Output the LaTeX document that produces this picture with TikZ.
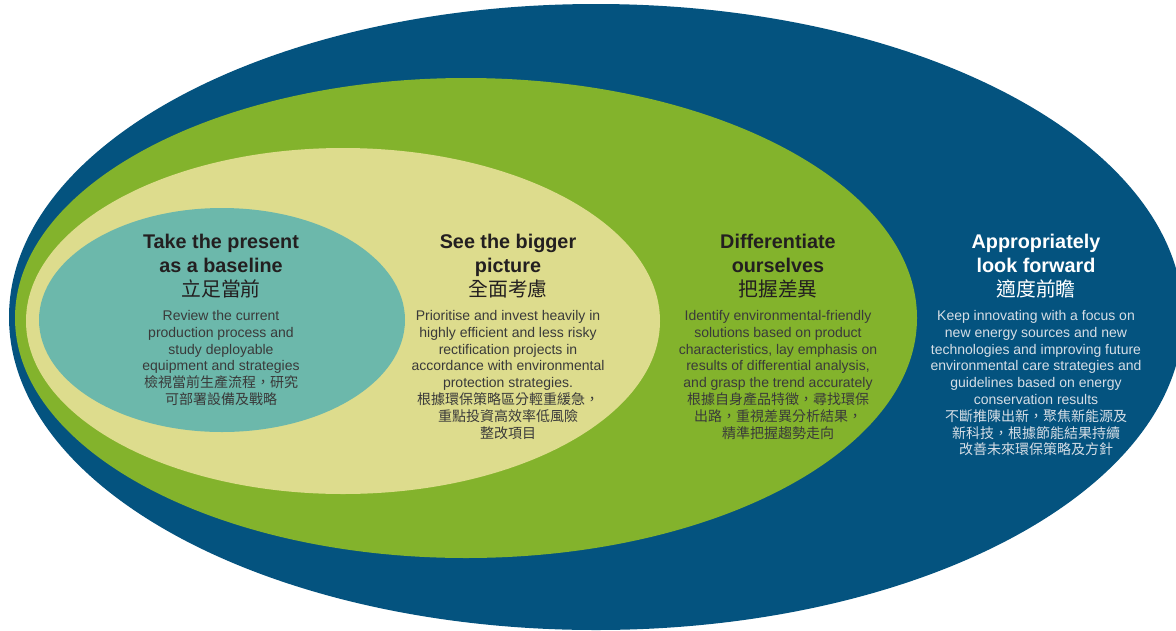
\documentclass[tikz,border=0pt]{standalone}
\usepackage{fontspec}
\setmainfont{Liberation Sans}
\newfontfamily\cjk[Script=CJK, Language=Chinese Traditional]{Noto Sans CJK TC}
\usepackage{tikz}
\usetikzlibrary{positioning}

\definecolor{ringblue}{HTML}{04537F}
\definecolor{ringgreen}{HTML}{83B32C}
\definecolor{ringyellow}{HTML}{DDDC8D}
\definecolor{ringteal}{HTML}{6CB8AB}
\definecolor{headtext}{HTML}{231F20}
\definecolor{bodytext}{HTML}{3A3A3A}
\definecolor{lighttext}{HTML}{D6DEE6}

\tikzset{
	head/.style={font=\fontsize{19.8}{24}\selectfont\bfseries, align=center, inner sep=0pt, anchor=north, text=headtext},
	body/.style={font=\fontsize{14}{16.8}\selectfont, align=center, inner sep=0pt, anchor=north, text=bodytext},
}

\begin{document}
\begin{tikzpicture}[x=1pt, y=-1pt]
				\useasboundingbox (0,0) rectangle (1176,630);
				
				\fill[ringblue] (596,317) ellipse [x radius=587pt, y radius=313pt];
				\fill[ringgreen] (466,318) ellipse [x radius=451pt, y radius=240pt];
				\fill[ringyellow] (343,321) ellipse [x radius=317pt, y radius=173pt];
				\fill[ringteal] (222,320) ellipse [x radius=183pt, y radius=112pt];
				
				\node[head] (T1) at (221,233.8) {Take the present\\as a baseline\\{\mdseries\cjk 立足當前}};
				\node[head] (T2) at (508,233.8) {See the bigger\\picture\\{\mdseries\cjk 全面考慮}};
				\node[head] (T3) at (778,233.8) {Differentiate\\ourselves\\{\mdseries\cjk 把握差異}};
				\node[head, text=white] (T4) at (1036,233.8) {Appropriately\\look forward\\{\mdseries\cjk 適度前瞻}};
				
				\node[body, below=12pt of T1] (B1) {Review the current\\production process and\\study deployable\\equipment and strategies\\{\cjk 檢視當前生產流程，研究}\\{\cjk 可部署設備及戰略}};
				\node[body, below=12pt of T2] (B2) {Prioritise and invest heavily in\\highly efficient and less risky\\rectification projects in\\accordance with environmental\\protection strategies.\\{\cjk 根據環保策略區分輕重緩急，}\\{\cjk 重點投資高效率低風險}\\{\cjk 整改項目}};
				\node[body, below=12pt of T3] (B3) {Identify environmental-friendly\\solutions based on product\\characteristics, lay emphasis on\\results of differential analysis,\\and grasp the trend accurately\\{\cjk 根據自身產品特徵，尋找環保}\\{\cjk 出路，重視差異分析結果，}\\{\cjk 精準把握趨勢走向}};
				\node[body, below=12pt of T4, text=lighttext] (B4) {Keep innovating with a focus on\\new energy sources and new\\technologies and improving future\\environmental care strategies and\\guidelines based on energy\\conservation results\\{\cjk 不斷推陳出新，聚焦新能源及}\\{\cjk 新科技，根據節能結果持續}\\{\cjk 改善未來環保策略及方針}};
			\end{tikzpicture}
\end{document}
